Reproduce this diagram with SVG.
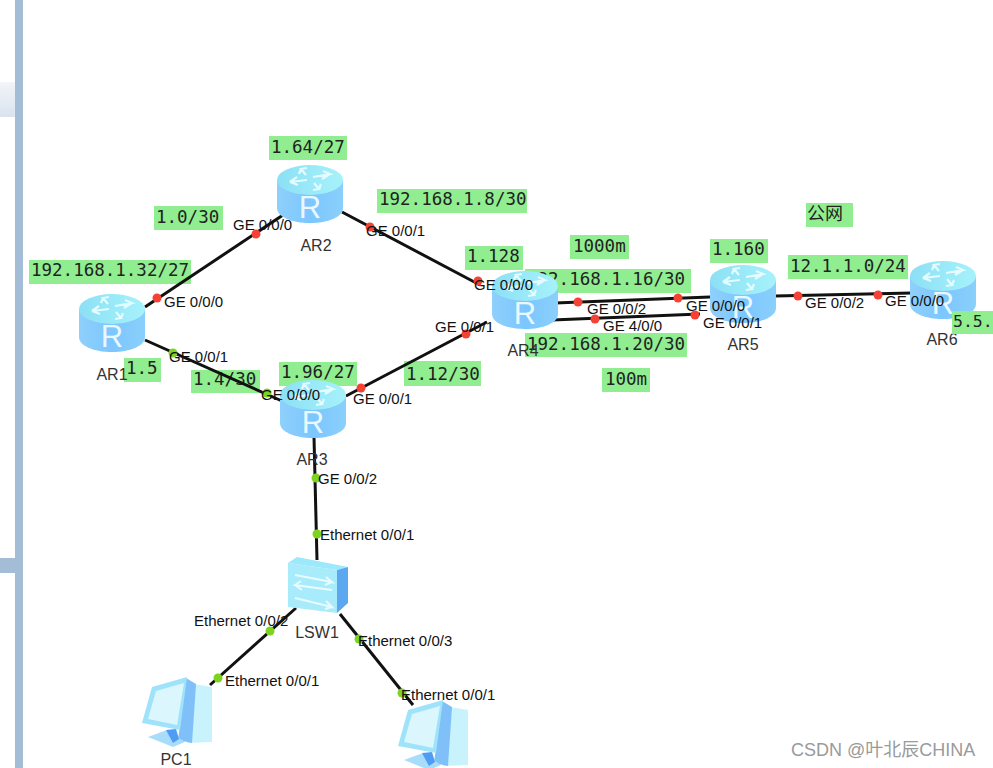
<svg xmlns="http://www.w3.org/2000/svg" width="993" height="768" viewBox="0 0 993 768">
<style>
.lab{fill:#90ee90}
.t{font-family:"DejaVu Sans Mono","Liberation Mono",monospace;font-size:17.500px;fill:#222}
.p{font-family:"Liberation Sans",Arial,sans-serif;font-size:15px;fill:#111}
.n{font-family:"Liberation Sans",Arial,sans-serif;font-size:16px;fill:#333}
.c{stroke:#111;stroke-width:3;fill:none}
.r{fill:#f44336}.g{fill:#7ed321}
</style>
<defs>
<linearGradient id="bd" x1="0" x2="1" y1="0" y2="0"><stop offset="0" stop-color="#8fd0fb"/><stop offset=".5" stop-color="#7cc6ff"/><stop offset="1" stop-color="#8ad0fb"/></linearGradient>
<linearGradient id="tp" x1="0" x2="1" y1="0" y2="0"><stop offset="0" stop-color="#8ce0f5"/><stop offset="1" stop-color="#a6f2fb"/></linearGradient>
<linearGradient id="tab" x1="0" x2="0" y1="0" y2="1"><stop offset="0" stop-color="#f2f5f9"/><stop offset="1" stop-color="#d9e3ee"/></linearGradient>
<g id="router">
<path d="M-33 -14V14C-33 23 -18 29 0 29S33 23 33 14V-14Z" fill="url(#bd)"/>
<ellipse cx="0" cy="-14" rx="33" ry="15" fill="url(#tp)"/>
<path d="M-3 -14L-20 -12L-13 -17M-20 -12L-12 -9M3 -17L20 -20L13 -23M20 -20L12 -15M-4 -19L-9 -25L-3 -26M-9 -25L-11 -20M4 -11L9 -5L3 -4M9 -5L11 -10" stroke="#e4fbff" stroke-width="2.200" fill="none"/>
<text x="0" y="24" text-anchor="middle" font-family="Liberation Sans,sans-serif" font-size="31" fill="#e9f8ff">R</text>
</g>
<g id="pc">
<path d="M10 -25L34 -21V34L9 35Z" fill="#c8f2fc"/>
<path d="M8 -30L18 -24L14 35L0 32Z" fill="#7fc0f8"/>
<path d="M-30 29L-11 22L7 34L-5 39Z" fill="#a8dcfb"/>
<path d="M-12 22L-2 21L1 31L-5 35Z" fill="#4f9cf5"/>
<path d="M9 -31L-26 -21L-36 15L2 22Z" fill="#9fe3fb"/>
<path d="M6 -25L-22 -17L-30 11L-1 17Z" fill="#dbf6fd"/>
</g>
</defs>
<rect width="993" height="768" fill="#fff"/>
<g id="chrome">
<rect x="15" y="0" width="8" height="768" fill="#a3bdd6"/>
<rect x="0" y="82" width="15" height="35" fill="url(#tab)"/>
<rect x="0" y="558" width="16" height="15" fill="#a3bdd6"/>
</g>
<g id="labels">
<rect class="lab" x="269" y="136" width="78" height="24"/><text class="t" x="271" y="153">1.64/27</text>
<rect class="lab" x="154" y="206" width="69" height="24"/><text class="t" x="156" y="223">1.0/30</text>
<rect class="lab" x="29" y="260" width="162" height="24"/><text class="t" x="31" y="276">192.168.1.32/27</text>
<rect class="lab" x="377" y="189" width="150" height="24"/><text class="t" x="379" y="205">192.168.1.8/30</text>
<rect class="lab" x="465" y="246" width="58" height="24"/><text class="t" x="467" y="262">1.128</text>
<rect class="lab" x="570" y="235" width="59" height="24"/><text class="t" x="573" y="252">1000m</text>
<rect class="lab" x="525" y="269" width="166" height="24"/><text class="t" x="527" y="285">192.168.1.16/30</text>
<rect class="lab" x="525" y="333" width="162" height="24"/><text class="t" x="527" y="350">192.168.1.20/30</text>
<rect class="lab" x="602" y="368" width="48" height="24"/><text class="t" x="605" y="385">100m</text>
<rect class="lab" x="710" y="239" width="58" height="24"/><text class="t" x="712" y="255">1.160</text>
<rect class="lab" x="788" y="255" width="120" height="24"/><text class="t" x="790" y="272">12.1.1.0/24</text>
<rect class="lab" x="806" y="203" width="47" height="24"/><text x="807" y="220" font-family="Noto Sans CJK SC,sans-serif" font-size="18" fill="#222">公网</text>
<rect class="lab" x="124" y="358" width="37" height="24"/><text class="t" x="126" y="374">1.5</text>
<rect class="lab" x="191" y="370" width="69" height="23"/><text class="t" x="193" y="385">1.4/30</text>
<rect class="lab" x="279" y="362" width="78" height="24"/><text class="t" x="281" y="378">1.96/27</text>
<rect class="lab" x="404" y="361" width="77" height="25"/><text class="t" x="406" y="380">1.12/30</text>
</g>
<g id="connectors">
<path class="c" d="M145 307L283 215"/>
<path class="c" d="M342 212L480 285"/>
<path class="c" d="M145 340L282 401"/>
<path class="c" d="M346 396L487 322"/>
<path class="c" d="M555 303L710 297"/>
<path class="c" d="M552 320L700 314"/>
<path class="c" d="M775 296L912 293"/>
<path class="c" d="M314 437L317 560"/>
<path class="c" d="M296 608L210 685"/>
<path class="c" d="M340 614L413 705"/>
</g>
<g id="AR1"><use href="#router" x="112" y="323"/><text class="n" x="112" y="380" text-anchor="middle">AR1</text></g>
<g id="AR2"><use href="#router" x="310" y="194"/><text class="n" x="316" y="251" text-anchor="middle">AR2</text></g>
<g id="AR3"><use href="#router" x="313" y="409"/><text class="n" x="312" y="465" text-anchor="middle">AR3</text></g>
<g id="AR4"><use href="#router" x="525" y="300"/><text class="n" x="523" y="356" text-anchor="middle">AR4</text></g>
<g id="AR5"><use href="#router" x="743" y="294"/><text class="n" x="743" y="350" text-anchor="middle">AR5</text></g>
<g id="AR6"><use href="#router" x="943" y="290"/><text class="n" x="942" y="345" text-anchor="middle">AR6</text></g>
<g id="LSW1">
<path d="M288 563L297 557L348 567L337 570Z" fill="#9de8fa"/>
<path d="M288 563L337 570V613L288 607Z" fill="#a8ecfb"/>
<path d="M337 570L348 567V603L337 613Z" fill="#5ba8f0"/>
<path d="M295 575L332 582L326 577M332 582L325 585M332 590L295 585L301 581M295 585L302 590M295 598L332 607L326 601M332 607L325 609" stroke="#e8fbff" stroke-width="2" fill="none"/>
<text class="n" x="317" y="638" text-anchor="middle">LSW1</text>
</g>
<g id="PC1"><use href="#pc" x="178" y="708"/><text class="n" x="176" y="765" text-anchor="middle">PC1</text></g>
<g id="PC2"><use href="#pc" x="434" y="731"/></g>
<g id="label-over-AR6"><rect class="lab" x="952" y="311" width="41" height="23"/><text x="953" y="327" font-family="DejaVu Sans Mono,monospace" font-size="16.500" fill="#222">5.5.</text></g>
<g id="ports">
<circle class="r" cx="157" cy="298" r="4.500"/><text class="p" x="164" y="307">GE 0/0/0</text>
<circle class="r" cx="256" cy="234" r="4.500"/><text class="p" x="233" y="230">GE 0/0/0</text>
<circle class="r" cx="370" cy="227" r="4.500"/><text class="p" x="366" y="236">GE 0/0/1</text>
<circle class="r" cx="478" cy="281" r="4.500"/><text class="p" x="474" y="290">GE 0/0/0</text>
<circle class="r" cx="466" cy="334" r="4.500"/><text class="p" x="435" y="332">GE 0/0/1</text>
<circle class="g" cx="173" cy="353" r="4.500"/><text class="p" x="169" y="362">GE 0/0/1</text>
<circle class="g" cx="267" cy="393" r="4.500"/><text class="p" x="261" y="400">GE 0/0/0</text>
<circle class="r" cx="361" cy="388" r="4.500"/><text class="p" x="353" y="404">GE 0/0/1</text>
<circle class="r" cx="578" cy="302" r="4.500"/><text class="p" x="587" y="314">GE 0/0/2</text>
<circle class="r" cx="678" cy="298" r="4.500"/><text class="p" x="686" y="311">GE 0/0/0</text>
<circle class="r" cx="595" cy="319" r="4.500"/><text class="p" x="603" y="331">GE 4/0/0</text>
<circle class="r" cx="695" cy="315" r="4.500"/><text class="p" x="703" y="328">GE 0/0/1</text>
<circle class="r" cx="798" cy="296" r="4.500"/><text class="p" x="805" y="308">GE 0/0/2</text>
<circle class="r" cx="878" cy="295" r="4.500"/><text class="p" x="885" y="306">GE 0/0/0</text>
<circle class="g" cx="316" cy="478" r="4.500"/><text class="p" x="318" y="484">GE 0/0/2</text>
<circle class="g" cx="317" cy="534" r="4.500"/><text class="p" x="320" y="540">Ethernet 0/0/1</text>
<circle class="g" cx="270" cy="631" r="4.500"/><text class="p" x="194" y="626">Ethernet 0/0/2</text>
<circle class="g" cx="218" cy="678" r="4.500"/><text class="p" x="225" y="686">Ethernet 0/0/1</text>
<circle class="g" cx="359" cy="639" r="4.500"/><text class="p" x="358" y="646">Ethernet 0/0/3</text>
<circle class="g" cx="402" cy="693" r="4.500"/><text class="p" x="401" y="700">Ethernet 0/0/1</text>
</g>
<text x="791" y="756" font-family="Liberation Sans,Noto Sans CJK SC,sans-serif" font-size="18" fill="#9a9a9a">CSDN @叶北辰CHINA</text>
</svg>
